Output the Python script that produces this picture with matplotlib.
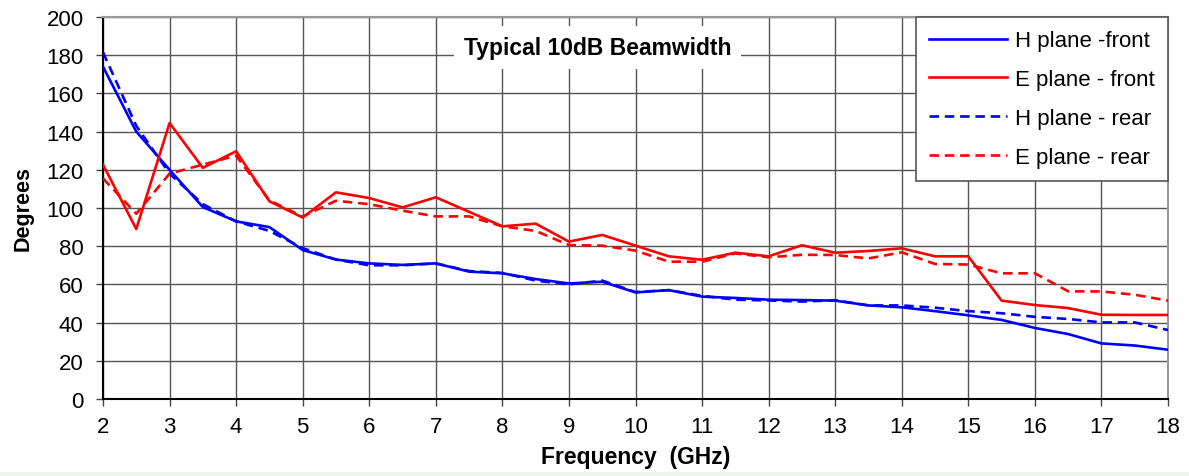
import matplotlib
matplotlib.use("Agg")
import matplotlib.pyplot as plt
import matplotlib.patches as mpatches
import numpy as np

plt.rcParams['font.family'] = ['Liberation Sans', 'DejaVu Sans']

freq = [2, 2.5, 3, 3.5, 4, 4.5, 5, 5.5, 6, 6.5, 7, 7.5, 8, 8.5, 9, 9.5, 10,
        10.5, 11, 11.5, 12, 12.5, 13, 13.5, 14, 14.5, 15, 15.5, 16, 16.5, 17, 17.5, 18]

h_front = [174, 140, 120, 100.5, 93, 90, 78, 73, 71, 70.2, 71, 66.7, 65.8, 62.8, 60.5, 61.4, 55.8,
           57, 53.6, 52.9, 52, 51.8, 51.5, 49, 48, 46, 43.8, 41.4, 37.2, 34, 29.1, 28, 25.8]
e_front = [122.7, 89, 144.5, 121, 129.7, 103.5, 95, 108.2, 105.2, 100.3, 105.6, 98, 90.4, 91.8, 82.4, 85.9, 80.3,
           74.7, 72.9, 76.6, 74.7, 80.5, 76.6, 77.5, 78.9, 74.7, 74.7, 51.5, 49.2, 47.6, 44.1, 44, 44]
h_rear = [181.5, 143, 118, 102, 93, 88, 79, 73, 70, 70, 71, 67, 66, 62, 60, 62, 56,
          57, 54, 52, 51.6, 51, 51.7, 49, 49, 47.8, 46, 44.9, 43, 41.9, 40.1, 40.1, 36.1]
e_rear = [115.5, 97, 118, 122.7, 127.4, 104, 95.5, 103.8, 102, 98.6, 95.6, 95.6, 90.4, 88, 80.6, 80.3, 77.7,
          71.9, 71.9, 76.2, 74.2, 75.5, 75.4, 73.6, 76.8, 70.7, 70.4, 65.8, 65.8, 56.4, 56.3, 54.6, 51.5]

series_labels = ['H plane -front', 'E plane - front', 'H plane - rear', 'E plane - rear']
x_ticks = list(range(2, 19))
y_ticks = list(range(0, 201, 20))

fig = plt.figure(figsize=(11.89, 4.77), dpi=100)
fig.patches.append(mpatches.Rectangle((0, 0), 1, 4.5 / 477, transform=fig.transFigure,
                                      facecolor='#eef4ee', edgecolor='none', zorder=-5))
ax = fig.add_axes([103 / 1189, 1 - 400 / 477, (1168 - 103) / 1189, (400 - 18) / 477])

dash = (0, (3.6, 2.2))
ax.plot(freq, h_front, color='#0000ff', lw=1.9, label=series_labels[0], zorder=5)
ax.plot(freq, e_front, color='#ff0000', lw=1.9, label=series_labels[1], zorder=5)
ax.plot(freq, h_rear, color='#0000ff', lw=1.9, ls=dash, label=series_labels[2], zorder=4)
ax.plot(freq, e_rear, color='#ff0000', lw=1.9, ls=dash, label=series_labels[3], zorder=4)

ax.set_xlim(2, 18)
ax.set_ylim(0, 200)
ax.set_xticks(x_ticks)
ax.set_yticks(y_ticks)
ax.tick_params(axis='both', labelsize=16, length=5, width=1, color='#444444')
ax.tick_params(axis='y', pad=9)
ax.tick_params(axis='x', pad=7)
ax.grid(True, color='#555555', lw=1)
ax.set_axisbelow(True)

for side in ['top', 'right']:
    ax.spines[side].set_color('#999999')
    ax.spines[side].set_linewidth(1.5)
ax.spines['left'].set_color('black')
ax.spines['left'].set_linewidth(1.5)
ax.spines['bottom'].set_color('black')
ax.spines['bottom'].set_linewidth(1.5)

ax.set_xlabel('Frequency  (GHz)', fontsize=16.5, fontweight='bold', labelpad=6)
ax.set_ylabel('Degrees', fontsize=15.5, fontweight='bold', labelpad=9)

ax.text(9.43, 184, 'Typical 10dB Beamwidth', fontsize=16.5, fontweight='bold',
        ha='center', va='center', zorder=6,
        bbox=dict(facecolor='white', edgecolor='none', pad=7))

leg = ax.legend(loc='upper right', fontsize=16, frameon=True, fancybox=False,
                edgecolor='#555555', framealpha=1, handlelength=3.5, handletextpad=0.35,
                labelspacing=0.8, borderpad=0.6, borderaxespad=0)
leg.get_frame().set_linewidth(1.2)
leg.set_zorder(10)

fig.savefig('out.png', dpi=100)
